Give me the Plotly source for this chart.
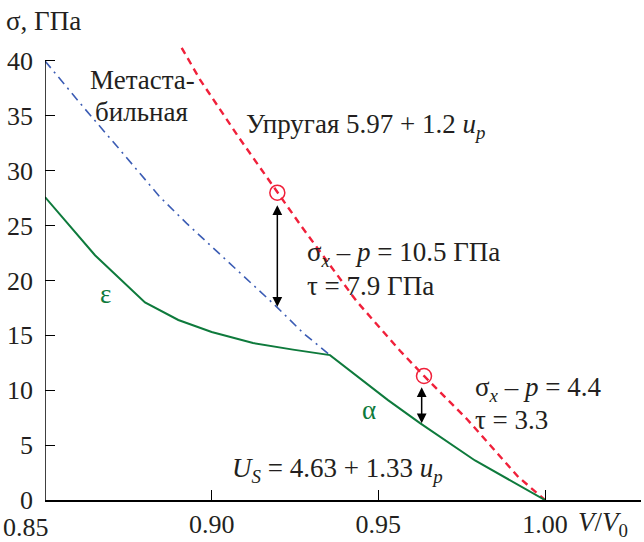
import plotly.graph_objects as go

# ---------------- data ----------------
green_x = [0.85, 0.865, 0.88, 0.89, 0.90, 0.9124, 0.9244, 0.9355, 0.9529, 0.9625, 0.979, 1.0]
green_y = [27.6, 22.3, 18.0, 16.4, 15.3, 14.3, 13.7, 13.2, 9.1, 7.0, 3.6, 0.0]

blue_x = [0.85, 0.8615, 0.8725, 0.8845, 0.8925, 0.9195, 0.9275, 0.9355]
blue_y = [40.0, 35.8, 31.9, 27.6, 25.2, 17.6, 15.2, 13.2]

red_x = [0.891, 0.8965, 0.908, 0.9197, 0.927, 0.9435, 0.9565, 0.9637, 0.9765, 0.992, 1.0]
red_y = [41.2, 38.3, 33.1, 28.0, 24.9, 18.1, 13.6, 11.3, 7.4, 2.1, 0.0]

circle_x = [0.9197, 0.9637]
circle_y = [28.0, 11.3]

arrow_x = [0.9197, 0.963]
arrow_top = [27.0, 10.4]
arrow_bottom = [17.6, 7.0]

x_ticks = [0.85, 0.90, 0.95, 1.00]
x_ticktext = ["", "0.90", "0.95", "1.00"]
y_ticks = [0, 5, 10, 15, 20, 25, 30, 35, 40]
y_ticktext = ["0", "5", "10", "15", "20", "25", "30", "35", "40"]

X_RANGE = [0.85, 1.0288]
Y_RANGE = [0, 42]

FONT = "Liberation Serif, Times New Roman, serif"
TXT = "#231f20"
GREEN = "#0e7a3c"
RED = "#f0203a"
BLUE = "#3b5cb4"
FS = 27
FS_TICK = 26

# plot area in pixels
L, R, T, B = 45, 641, 39, 500

fig = go.Figure()

fig.add_trace(go.Scatter(x=blue_x, y=blue_y, mode="lines",
                         line=dict(color=BLUE, width=1.6, dash="9px,5px,2px,5px"),
                         showlegend=False, hoverinfo="skip"))
fig.add_trace(go.Scatter(x=red_x, y=red_y, mode="lines",
                         line=dict(color=RED, width=2.4, dash="7px,5px"),
                         showlegend=False, hoverinfo="skip"))
fig.add_trace(go.Scatter(x=green_x, y=green_y, mode="lines",
                         line=dict(color=GREEN, width=2),
                         showlegend=False, hoverinfo="skip"))
fig.add_trace(go.Scatter(x=circle_x, y=circle_y, mode="markers",
                         marker=dict(symbol="circle-open", size=15, color=RED,
                                     line=dict(width=1.5, color=RED)),
                         showlegend=False, hoverinfo="skip"))

annotations = []
for ax_, top, bot in zip(arrow_x, arrow_top, arrow_bottom):
    annotations.append(dict(x=ax_, y=bot, ax=ax_, ay=top, xref="x", yref="y",
                            axref="x", ayref="y", text="", showarrow=True,
                            arrowhead=2, startarrowhead=2, arrowside="end+start",
                            arrowsize=1.3, startarrowsize=1.3, arrowwidth=1.5,
                            arrowcolor="black", standoff=0, startstandoff=0))


def label(text, x, y, color=TXT, size=FS, xanchor="left"):
    annotations.append(dict(x=(x - L) / (R - L), y=(B - y) / (B - T),
                            xref="paper", yref="paper", text=text,
                            showarrow=False, xanchor=xanchor, yanchor="middle",
                            font=dict(family=FONT, size=size, color=color)))


label("σ, ГПа", 4, 21)
label("Метаста-", 88, 80)
label("бильная", 93, 112)
label("Упругая 5.97 + 1.2 <i>u<sub>p</sub></i>", 244, 126)
label("σ<sub><i>x</i></sub> – <i>p</i> = 10.5 ГПа", 305, 254)
label("τ = 7.9 ГПа", 305, 286)
label("ε", 98, 294, color=GREEN)
label("α", 360, 410, color=GREEN)
label("σ<sub><i>x</i></sub> – <i>p</i> = 4.4", 473, 389)
label("τ = 3.3", 473, 420)
label("<i>U<sub>S</sub></i> = 4.63 + 1.33 <i>u<sub>p</sub></i>", 230, 470)
label("<i>V</i>/<i>V</i><sub>0</sub>", 576, 524)
label("0.85", 26, 527, xanchor="center", size=FS_TICK)

fig.update_layout(
    width=644, height=542,
    margin=dict(l=L, r=644 - R, t=T, b=542 - B),
    paper_bgcolor="white", plot_bgcolor="white",
    font=dict(family=FONT, size=FS, color=TXT),
    annotations=annotations,
    shapes=[dict(type="line", xref="x", yref="y", x0=0.85, x1=0.85, y0=0, y1=40,
                 line=dict(color="black", width=1.5))],
    xaxis=dict(range=X_RANGE, tickvals=x_ticks, ticktext=x_ticktext,
               ticks="inside", ticklen=10, tickwidth=1.2, tickcolor="black",
               showline=True, linecolor="black", linewidth=1.5,
               showgrid=False, zeroline=False,
               tickfont=dict(family=FONT, size=FS_TICK, color=TXT)),
    yaxis=dict(range=Y_RANGE, tickvals=y_ticks, ticktext=y_ticktext,
               ticks="inside", ticklen=10, tickwidth=1.2, tickcolor="black",
               showline=False, showgrid=False, zeroline=False,
               ticklabelstandoff=11,
               tickfont=dict(family=FONT, size=FS_TICK, color=TXT)),
)

fig.write_html("out.html", config={"displayModeBar": False},
               post_script="document.body.style.margin='0';document.body.style.overflow='hidden';")
